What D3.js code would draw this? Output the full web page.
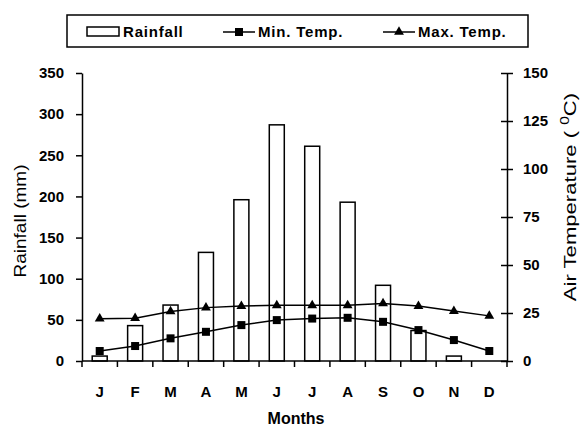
<!DOCTYPE html>
<html>
<head>
<meta charset="utf-8">
<script src="https://cdn.jsdelivr.net/npm/d3@7"></script>
<style>
  body { margin: 0; background: #fff; }
  text { font-family: "Liberation Sans", Arial, sans-serif; }
</style>
</head>
<body>
<script>
// monthly climate data
var months = ["J", "F", "M", "A", "M", "J", "J", "A", "S", "O", "N", "D"];
var rainfall = [6, 43, 68, 132, 196, 287, 261, 193, 92, 37, 6, 0];
var minTemp = [5.2, 7.8, 11.8, 15.2, 18.7, 21.3, 22.1, 22.5, 20.4, 16.1, 10.9, 5.2];
var maxTemp = [22, 22.3, 25.8, 27.8, 28.6, 29, 29, 29, 30, 28.6, 26, 23.5];
var rainTicks = [0, 50, 100, 150, 200, 250, 300, 350];
var tempTicks = [0, 25, 50, 75, 100, 125, 150];

var w = 581, h = 433;
// plot edges (avoid "top", it is window.top)
var pLeft = 82, pRight = 507, pTop = 73, pBottom = 361;

var svg = d3.select("body").append("svg")
  .attr("width", w).attr("height", h);

var x = d3.scaleBand()
  .domain(d3.range(months.length))
  .range([pLeft, pRight]);

var yRain = d3.scaleLinear().domain([0, 350]).range([pBottom, pTop]);
var yTemp = d3.scaleLinear().domain([0, 150]).range([pBottom, pTop]);

// bars
svg.selectAll("rect.bar")
  .data(rainfall)
  .enter()
  .append("rect")
  .attr("class", "bar")
  .attr("x", function(d, i) { return x(i) + x.bandwidth() / 2 - 7.5; })
  .attr("y", function(d) { return yRain(d); })
  .attr("width", 15)
  .attr("height", function(d) { return pBottom - yRain(d); })
  .attr("fill", "#fff")
  .attr("stroke", "#000")
  .attr("stroke-width", 1.5)
  .style("display", function(d) { return d > 0 ? null : "none"; });

// axes
var xAxis = svg.append("g")
  .attr("transform", "translate(0," + pBottom + ")")
  .call(d3.axisBottom(x).tickSize(0).tickFormat(function(i) { return months[i]; }));
xAxis.select(".domain").remove();
xAxis.selectAll("text").attr("dy", 0).attr("y", 36)
  .attr("font-size", 15).attr("font-weight", "bold").attr("fill", "#000")
  .style("font-family", "'Liberation Sans', Arial, sans-serif");
// category boundary ticks
svg.selectAll("line.xtick")
  .data(d3.range(months.length + 1))
  .enter()
  .append("line")
  .attr("class", "xtick")
  .attr("x1", function(i) { return i < months.length ? x(i) : pRight; })
  .attr("x2", function(i) { return i < months.length ? x(i) : pRight; })
  .attr("y1", pBottom).attr("y2", pBottom + 6)
  .attr("stroke", "#000").attr("stroke-width", 1.5);
svg.append("line")
  .attr("x1", pLeft).attr("x2", pRight).attr("y1", pBottom).attr("y2", pBottom)
  .attr("stroke", "#000").attr("stroke-width", 1.5);

var yl = svg.append("g")
  .attr("transform", "translate(" + pLeft + ",0)")
  .call(d3.axisLeft(yRain).tickValues(rainTicks).tickSize(6).tickSizeOuter(0).tickPadding(12));
var yr = svg.append("g")
  .attr("transform", "translate(" + pRight + ",0)")
  .call(d3.axisRight(yTemp).tickValues(tempTicks).tickSize(6).tickSizeOuter(0).tickPadding(10));
yr.selectAll(".tick line").attr("x1", -6);
[yl, yr].forEach(function(g) {
  g.select(".domain").attr("stroke-width", 1.5);
  g.selectAll(".tick line").attr("stroke-width", 1.5);
  g.selectAll("text").attr("font-size", 15).attr("font-weight", "bold").attr("fill", "#000")
    .style("font-family", "'Liberation Sans', Arial, sans-serif");
});

// temperature lines
var cx = function(d, i) { return x(i) + x.bandwidth() / 2; };
var line = d3.line().x(cx).y(function(d) { return yTemp(d); });

svg.append("path").datum(minTemp)
  .attr("d", line).attr("fill", "none").attr("stroke", "#000").attr("stroke-width", 1.5);
svg.append("path").datum(maxTemp)
  .attr("d", line).attr("fill", "none").attr("stroke", "#000").attr("stroke-width", 1.5);

svg.selectAll("rect.minpt")
  .data(minTemp)
  .enter()
  .append("rect")
  .attr("class", "minpt")
  .attr("x", function(d, i) { return cx(d, i) - 4; })
  .attr("y", function(d) { return yTemp(d) - 4; })
  .attr("width", 8).attr("height", 8)
  .attr("fill", "#000");

var tri = d3.symbol().type(d3.symbolTriangle).size(42);
svg.selectAll("path.maxpt")
  .data(maxTemp)
  .enter()
  .append("path")
  .attr("class", "maxpt")
  .attr("d", tri)
  .attr("transform", function(d, i) { return "translate(" + cx(d, i) + "," + yTemp(d) + ")"; })
  .attr("fill", "#000");

// axis titles (stretched a little along their length like the scan)
svg.append("text")
  .attr("transform", "translate(26,221) rotate(-90) scale(1.12,1)")
  .attr("text-anchor", "middle")
  .attr("font-size", 17)
  .text("Rainfall (mm)");

var rt = svg.append("text")
  .attr("transform", "translate(576,197) rotate(-90) scale(1.3,1)")
  .attr("text-anchor", "middle")
  .attr("font-size", 17);
rt.append("tspan").text("Air Temperature ( ");
rt.append("tspan").attr("font-size", 12).attr("dy", -7).text("0");
rt.append("tspan").attr("dy", 7).text("C)");

svg.append("text")
  .attr("x", 296).attr("y", 424)
  .attr("text-anchor", "middle")
  .attr("font-size", 16).attr("font-weight", "bold")
  .text("Months");

// legend
var lg = svg.append("g");
lg.append("rect")
  .attr("x", 67).attr("y", 15).attr("width", 461).attr("height", 32)
  .attr("fill", "#fff").attr("stroke", "#000").attr("stroke-width", 1.5);
lg.append("rect")
  .attr("x", 87).attr("y", 27).attr("width", 32).attr("height", 9)
  .attr("fill", "#fff").attr("stroke", "#000").attr("stroke-width", 1.5);
lg.append("text").attr("x", 123).attr("y", 37)
  .attr("font-size", 15).attr("font-weight", "bold").attr("letter-spacing", 0.8).text("Rainfall");

lg.append("line").attr("x1", 223).attr("x2", 255).attr("y1", 32).attr("y2", 32)
  .attr("stroke", "#000").attr("stroke-width", 1.5);
lg.append("rect").attr("x", 235).attr("y", 28).attr("width", 8).attr("height", 8).attr("fill", "#000");
lg.append("text").attr("x", 258).attr("y", 37)
  .attr("font-size", 15).attr("font-weight", "bold").attr("letter-spacing", 0.8).text("Min. Temp.");

lg.append("line").attr("x1", 383).attr("x2", 415).attr("y1", 32).attr("y2", 32)
  .attr("stroke", "#000").attr("stroke-width", 1.5);
lg.append("path").attr("d", tri).attr("transform", "translate(399,32)").attr("fill", "#000");
lg.append("text").attr("x", 418).attr("y", 37)
  .attr("font-size", 15).attr("font-weight", "bold").attr("letter-spacing", 0.8).text("Max. Temp.");
</script>
</body>
</html>
